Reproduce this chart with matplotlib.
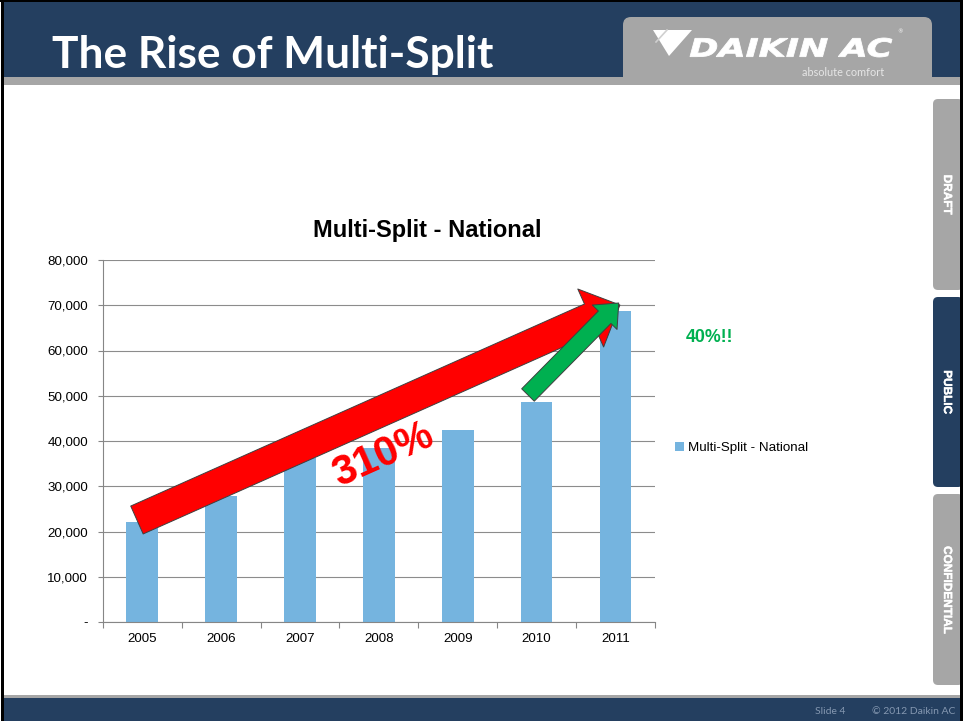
import matplotlib
matplotlib.use('Agg')
import numpy as np
import matplotlib.pyplot as plt
import matplotlib.patheffects as pe
from matplotlib.patches import FancyArrowPatch, Rectangle, FancyBboxPatch, Polygon, PathPatch, ArrowStyle
from matplotlib.textpath import TextPath
from matplotlib.font_manager import FontProperties
from matplotlib.transforms import Affine2D, IdentityTransform

# ---------------- data ----------------
years = ['2005', '2006', '2007', '2008', '2009', '2010', '2011']
units = [22100, 27800, 36200, 38400, 42400, 48600, 68700]
series_name = 'Multi-Split - National'
chart_title = 'Multi-Split - National'
slide_title = 'The Rise of Multi-Split'
y_ticks = [0, 10000, 20000, 30000, 40000, 50000, 60000, 70000, 80000]
y_tick_labels = ['-', '10,000', '20,000', '30,000', '40,000', '50,000', '60,000', '70,000', '80,000']
growth_total = '310%'
growth_last = '40%!!'
tabs = ['DRAFT', 'PUBLIC', 'CONFIDENTIAL']

# ---------------- style ----------------
W, H = 965, 721
NAVY = '#243F60'
GRAY = '#A6A6A6'
BAR = '#75B4DF'
RED = '#FF0000'
GREEN = '#00B050'
ARIAL = 'Liberation Sans'

fig = plt.figure(figsize=(W / 100, H / 100), dpi=100)
fig.patch.set_facecolor('white')
ID = IdentityTransform()


def box(x0, y0, x1, y1, color, z=0, rounding=None):
    if rounding:
        p = FancyBboxPatch((x0, H - y1), x1 - x0, y1 - y0,
                           boxstyle=f'round,pad=0,rounding_size={rounding}',
                           transform=ID, facecolor=color, edgecolor='none', zorder=z)
    else:
        p = Rectangle((x0, H - y1), x1 - x0, y1 - y0, transform=ID,
                      facecolor=color, edgecolor='none', zorder=z)
    fig.patches.append(p)
    return p


def ptext(x, y, s, **kw):
    return fig.text(x, H - y, s, transform=ID, **kw)


# header
box(4, 2, 961, 78, NAVY, z=0)
box(623, 17, 932, 85, GRAY, z=1, rounding=8)
box(4, 77, 961, 85, GRAY, z=2)
# footer
box(4, 695, 961, 698, GRAY, z=0)
box(4, 698, 961, 721, NAVY, z=0)
# side tabs
tab_spans = [(99, 290, GRAY), (297, 487, NAVY), (494, 685, GRAY)]
for (ya, yb, c), lab in zip(tab_spans, tabs):
    box(933, ya, 963, yb, c, z=1, rounding=5)
    ptext(947, (ya + yb) / 2, lab, rotation=-90, ha='center', va='center',
          fontsize=8.5, fontweight='bold', color='white', family=ARIAL, zorder=3,
          path_effects=[pe.withStroke(linewidth=0.3, foreground='white')])
# black frame
box(0, 0, 963, 2, 'black', z=5)
box(1, 0, 4, 721, 'black', z=5)
box(960, 0, 963, 721, 'black', z=5)

# slide title (fit to width)
t_title = ptext(52, 68, slide_title, ha='left', va='baseline', fontsize=32,
                fontweight='bold', color='white', family='Lato', zorder=3)

# logo
tri = Polygon([(653, H - 30), (692, H - 30), (669, H - 56)], closed=True,
              transform=ID, facecolor='white', edgecolor='none', zorder=3)
fig.patches.append(tri)
fig.lines.append(plt.Line2D([667, 656], [H - 30, H - 42], transform=ID,
                            color='#D0D0D0', lw=1.2, zorder=4))
fp = FontProperties(family='DejaVu Sans', weight='bold', style='oblique')
tp = TextPath((0, 0), 'DAIKIN AC', prop=fp, size=20)
ext = tp.get_extents()
sx = (892 - 690) / ext.width
sy = (57 - 38) / ext.height
tr = Affine2D().translate(-ext.x0, -ext.y0).scale(sx, sy).translate(690, H - 57)
fig.patches.append(PathPatch(tr.transform_path(tp), transform=ID,
                             facecolor='white', edgecolor='white', lw=0.6, zorder=3))
ptext(897, 32, '®', fontsize=4, color='white', ha='left', va='center', zorder=3)
ptext(843, 73, 'absolute comfort', fontsize=7.8, color='#E6E6E6', ha='center',
      va='center', family='Lato', zorder=3)

# footer text
ptext(845, 712, 'Slide 4', fontsize=7.5, color='#8497B0', ha='right', va='center', family='Lato')
ptext(955, 712, '© 2012 Daikin AC', fontsize=7.5, color='#8497B0', ha='right', va='center', family='Lato')

# ---------------- chart ----------------
ax = fig.add_axes([102.7 / W, 1 - 622 / H, (655 - 102.7) / W, (622 - 260) / H])
ax.set_facecolor('none')
x = np.arange(len(years))
bars = ax.bar(x, units, width=0.4, color=BAR, zorder=2, label=series_name)
ax.set_xlim(-0.5, len(years) - 0.5)
ax.set_ylim(y_ticks[0], y_ticks[-1])
ax.set_yticks(y_ticks)
ax.set_yticklabels(y_tick_labels)
ax.yaxis.grid(True, color='#8C8C8C', lw=0.8, zorder=1)
ax.set_axisbelow(True)
for s in ['top', 'right']:
    ax.spines[s].set_visible(False)
for s in ['left', 'bottom']:
    ax.spines[s].set_color('#868686')
    ax.spines[s].set_linewidth(0.8)
ax.tick_params(axis='y', direction='out', length=3.5, width=0.8, color='#868686',
               labelsize=9.6, pad=7)
ax.set_xticks(np.arange(-0.5, len(years), 1.0))
ax.set_xticklabels([])
ax.set_xticks(x, minor=True)
ax.set_xticklabels(years, minor=True)
ax.tick_params(axis='x', which='major', direction='out', length=4, width=0.8, color='#868686')
ax.tick_params(axis='x', which='minor', length=0, labelsize=9.6, pad=8)
for lab in ax.get_xticklabels(minor=True) + ax.get_yticklabels():
    lab.set_family(ARIAL)

ptext(427, 230, chart_title, ha='center', va='center', fontsize=17,
      fontweight='bold', family=ARIAL)

leg = ax.legend(loc='center left', bbox_to_anchor=(675, H - 448), bbox_transform=ID,
                frameon=False, handlelength=0.7, handleheight=0.7,
                handletextpad=0.3, borderpad=0, borderaxespad=0,
                prop={'family': ARIAL, 'size': 9.6})

# growth arrows
red_arrow = FancyArrowPatch((-0.066, 22540), (6.055, 70055),
                            arrowstyle=ArrowStyle.Simple(head_length=23, head_width=45.7, tail_width=22),
                            mutation_scale=1, facecolor=RED, edgecolor='#3F3F3F', lw=0.7,
                            shrinkA=0, shrinkB=0, transform=ax.transData, clip_on=False, zorder=5)
ax.add_patch(red_arrow)
green_arrow = FancyArrowPatch((4.89, 50166), (6.04, 70497),
                              arrowstyle=ArrowStyle.Simple(head_length=14.4, head_width=25, tail_width=12.7),
                              mutation_scale=1, facecolor=GREEN, edgecolor='#3F3F3F', lw=0.7,
                              shrinkA=0, shrinkB=0, transform=ax.transData, clip_on=False, zorder=6)
ax.add_patch(green_arrow)
ax.text(3.06, 36900, growth_total, rotation=24, rotation_mode='anchor', ha='center',
        va='center', fontsize=30, fontweight='bold', color=RED, family=ARIAL, zorder=7)
ptext(686, 338, growth_last, ha='left', va='center', fontsize=12.8, fontweight='bold',
      color=GREEN, family=ARIAL)

# fit slide title width
fig.canvas.draw()
r = fig.canvas.get_renderer()
bb = t_title.get_window_extent(r)
t_title.set_fontsize(32 * 442 / bb.width)

fig.savefig('out.png', dpi=100)
